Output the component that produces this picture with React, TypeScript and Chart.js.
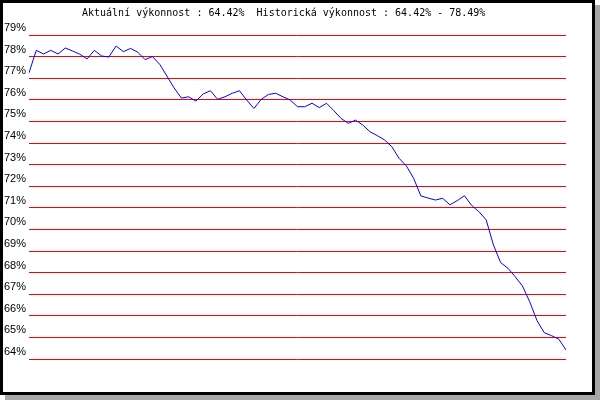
import React, { useEffect, useRef } from 'react';
import { Chart, registerables } from 'chart.js';

Chart.register(...registerables);

const titleText = 'Aktuální výkonnost : 64.42%  Historická výkonnost : 64.42% - 78.49%';

// performance in %, one value per sample
const performance = [
  77.25, 78.29, 78.12, 78.29, 78.12, 78.4, 78.26, 78.11, 77.89, 78.29,
  78.03, 77.98, 78.49, 78.23, 78.38, 78.2, 77.86, 78.0, 77.65, 77.1,
  76.55, 76.08, 76.14, 75.94, 76.27, 76.42, 76.02, 76.14, 76.3, 76.42,
  75.99, 75.6, 76.02, 76.25, 76.3, 76.14, 75.99, 75.68, 75.68, 75.84,
  75.64, 75.84, 75.5, 75.14, 74.91, 75.06, 74.83, 74.52, 74.34, 74.14,
  73.83, 73.29, 72.94, 72.37, 71.55, 71.45, 71.36, 71.44, 71.14, 71.33,
  71.56, 71.11, 70.82, 70.44, 69.28, 68.46, 68.2, 67.81, 67.38, 66.65,
  65.78, 65.22, 65.08, 64.92, 64.42,
];

const samples = performance.map((_, i) => String(i + 1));

const yMin = 64;
const yMax = 79;

// frame with grey drop shadow + title text
const framePlugin = {
  id: 'frame',
  beforeDraw(chart: Chart) {
    const ctx = chart.ctx;
    ctx.save();
    ctx.fillStyle = '#a8a8a8';
    ctx.fillRect(5, 5, 595, 395);
    ctx.fillStyle = '#ffffff';
    ctx.fillRect(0, 0, 595, 395);
    ctx.strokeStyle = '#000000';
    ctx.lineWidth = 3;
    ctx.strokeRect(1.5, 1.5, 592, 392);
    ctx.restore();
  },
  afterDraw(chart: Chart) {
    const ctx = chart.ctx;
    ctx.save();
    ctx.font = "10px 'DejaVu Sans Mono', monospace";
    ctx.fillStyle = '#000000';
    ctx.textAlign = 'left';
    ctx.textBaseline = 'middle';
    ctx.fillText(titleText, 82, 13);
    ctx.restore();
  },
};

const App: React.FC = () => {
  const chartRef = useRef<HTMLCanvasElement>(null);
  const chartInstanceRef = useRef<Chart | null>(null);

  useEffect(() => {
    if (!chartRef.current) return;
    const ctx = chartRef.current.getContext('2d');
    if (!ctx) return;

    if (chartInstanceRef.current) {
      chartInstanceRef.current.destroy();
      chartInstanceRef.current = null;
    }

    chartInstanceRef.current = new Chart(ctx, {
      type: 'line',
      data: {
        labels: samples,
        datasets: [
          {
            label: 'výkonnost',
            data: performance,
            borderColor: '#0000ff',
            borderWidth: 1,
            pointRadius: 0,
            tension: 0,
            fill: false,
          },
        ],
      },
      options: {
        responsive: false,
        animation: false,
        layout: {
          padding: { left: 0, top: 35, right: 34, bottom: 41 },
        },
        plugins: {
          legend: { display: false },
          title: { display: false },
          tooltip: { enabled: false },
        },
        scales: {
          x: {
            display: false,
          },
          y: {
            min: yMin,
            max: yMax,
            afterFit: (scale: any) => {
              scale.width = 29;
            },
            border: { display: false },
            grid: {
              color: '#ff0000',
              lineWidth: 1,
              drawTicks: false,
            },
            ticks: {
              stepSize: 1,
              padding: 3,
              labelOffset: -7,
              color: '#000000',
              font: { family: "'Liberation Sans Narrow', 'Liberation Sans', sans-serif", size: 11 },
              callback: (v: any) => `${v}%`,
            },
          },
        },
      },
      plugins: [framePlugin],
    });

    return () => {
      if (chartInstanceRef.current) {
        chartInstanceRef.current.destroy();
        chartInstanceRef.current = null;
      }
    };
  }, []);

  return (
    <div style={{ position: 'absolute', left: 0, top: 0, width: 600, height: 400 }}>
      <canvas ref={chartRef} width={600} height={400} />
    </div>
  );
};

export default App;
